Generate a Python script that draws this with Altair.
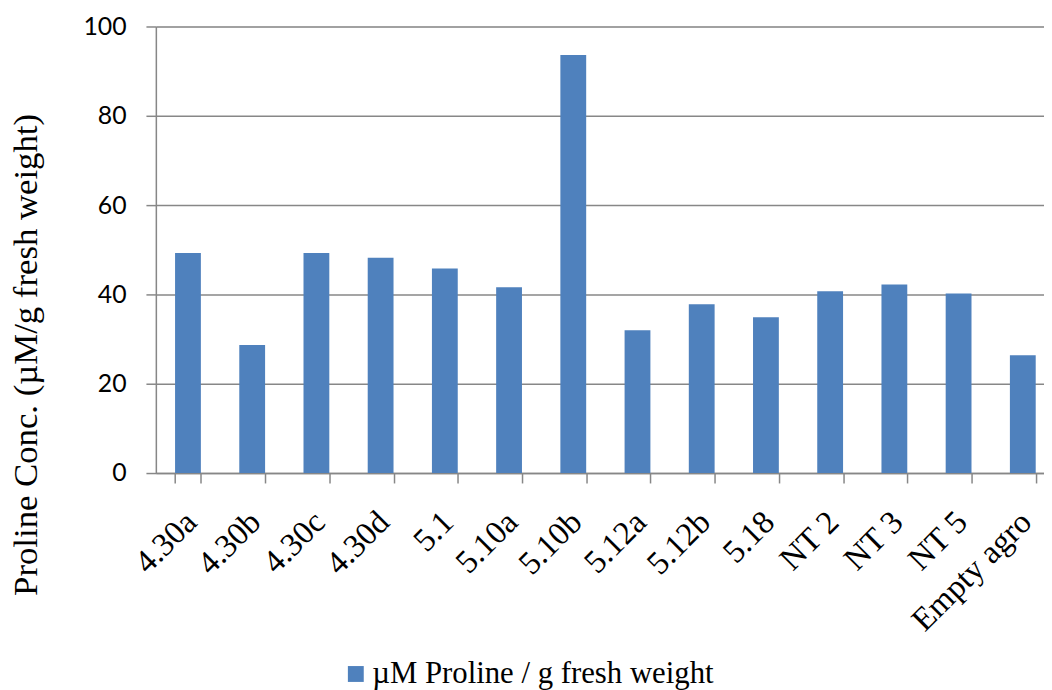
import altair as alt
import pandas as pd

samples = ["4.30a", "4.30b", "4.30c", "4.30d", "5.1", "5.10a", "5.10b",
           "5.12a", "5.12b", "5.18", "NT 2", "NT 3", "NT 5", "Empty agro"]
values = [49.3, 28.7, 49.3, 48.2, 45.8, 41.6, 93.6,
          32.0, 37.8, 34.9, 40.7, 42.2, 40.2, 26.4]
series_name = "µM Proline / g fresh weight"
y_ticks = [0, 20, 40, 60, 80, 100]

df = pd.DataFrame({"sample": samples, "value": values, "series": [series_name] * len(samples)})

GRID = "#878787"

chart = alt.Chart(df).mark_bar().encode(
    x=alt.X(
        "sample:N",
        sort=samples,
        scale=alt.Scale(range=[0, 906], paddingInner=0.598, paddingOuter=0.299),
        axis=alt.Axis(
            title=None,
            labelAngle=-45,
            labelAlign="right",
            labelBaseline="middle",
            labelPadding=34,
            labelOffset=3,
            labelFont="Liberation Serif",
            labelFontSize=33,
            labelColor="black",
            labelOverlap=False,
            labelLimit=0,
            tickBand="extent",
            tickSize=10,
            tickColor=GRID,
            tickWidth=1.5,
            domainColor=GRID,
            domainWidth=1.5,
            grid=False,
        ),
    ),
    y=alt.Y(
        "value:Q",
        scale=alt.Scale(domain=[0, 100], nice=False),
        axis=alt.Axis(
            values=y_ticks,
            title="Proline Conc. (µM/g fresh weight)",
            titleFont="Liberation Serif",
            titleFontSize=35,
            titleFontWeight="normal",
            titleColor="black",
            titleAngle=270,
            titleAlign="center",
            titleBaseline="alphabetic",
            titleX=-120,
            titleY=330.5,
            labelFont="Lato",
            labelFontSize=25,
            labelColor="black",
            labelPadding=20,
            tickSize=10,
            tickColor=GRID,
            tickWidth=1.5,
            domainColor=GRID,
            domainWidth=1.5,
            grid=True,
            gridColor=GRID,
            gridWidth=1.5,
        ),
    ),
    color=alt.Color(
        "series:N",
        scale=alt.Scale(range=["#4F81BD"]),
        legend=alt.Legend(
            title=None,
            orient="none",
            legendX=186,
            legendY=637,
            padding=0,
            symbolType="square",
            symbolSize=256,
            symbolStrokeWidth=0,
            symbolOpacity=1,
            labelFont="Liberation Serif",
            labelFontSize=31,
            labelColor="black",
            labelOffset=1,
            labelLimit=0,
        ),
    ),
).properties(
    width=895,
    height=450,
    autosize=alt.AutoSizeParams(type="none"),
    padding={"left": 149, "top": 16, "right": 0, "bottom": 216},
).configure_view(stroke=None).configure(background="white")

chart.save("out.html", embed_options={"renderer": "svg", "actions": False})
